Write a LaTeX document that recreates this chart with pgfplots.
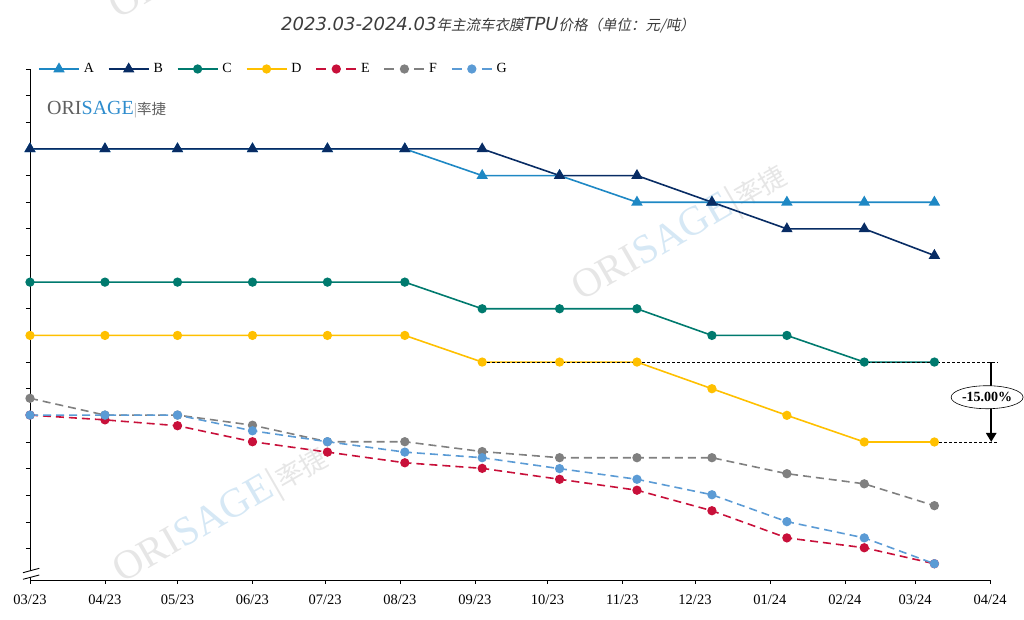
\documentclass[border=0pt]{standalone}
\usepackage{pgfplots}
\pgfplotsset{compat=1.18}
\usepackage{pgfplotstable}
\usepackage{fontspec}
\setmainfont{Liberation Serif}
\newfontfamily\cjk{Noto Sans CJK SC}
\newfontfamily\cjkslant{Noto Sans CJK SC}[FakeSlant=0.2]
\newfontfamily\titlefont{DejaVu Sans}
\usetikzlibrary{arrows.meta,shapes.geometric}

\definecolor{cA}{RGB}{30,136,196}
\definecolor{cB}{RGB}{8,44,100}
\definecolor{cC}{RGB}{0,122,110}
\definecolor{cD}{RGB}{255,192,0}
\definecolor{cE}{RGB}{200,16,58}
\definecolor{cF}{RGB}{128,128,128}
\definecolor{cG}{RGB}{91,155,213}
\definecolor{logoblue}{RGB}{46,140,205}
\definecolor{logogray}{RGB}{95,95,95}
\definecolor{wmgray}{RGB}{230,230,230}
\definecolor{wmblue}{RGB}{214,232,245}
\definecolor{titlegray}{RGB}{60,60,60}

\pgfplotstableread{
x A B C D E F G
0 16 16 11 9 6.01 6.64 6.01
31 16 16 11 9 5.83 6.01 6.01
61 16 16 11 9 5.61 6.01 6.01
92 16 16 11 9 5.01 5.63 5.42
123 16 16 11 9 4.62 5.01 5.01
155 16 16 11 9 4.22 5.01 4.62
187 15 16 10 8 4.01 4.64 4.41
219 15 15 10 8 3.60 4.41 4.00
251 14 15 10 8 3.19 4.41 3.60
282 14 14 9 7 2.42 4.41 3.02
313 14 13 9 6 1.40 3.81 2.01
345 14 13 8 5 1.03 3.43 1.40
374 14 12 8 5 0.43 2.61 0.43
}\datatable

\newcommand{\wm}[1]{\node[rotate=30, anchor=base west, inner sep=0pt, text=wmgray, font=\fontsize{41}{41}\selectfont] at (#1) {ORI\textcolor{wmblue}{SAGE}|{\cjk\fontsize{27}{27}\selectfont 率捷}};}

\begin{document}
\begin{tikzpicture}[x=1pt,y=1pt]
\useasboundingbox (0,0) rectangle (1024,620);
% watermarks
\wm{581,318}
\wm{122,36}
\wm{118,600}
% title
\node[anchor=base, inner sep=0pt, text=titlegray] at (488,589) {\titlefont\itshape\fontsize{18}{20}\selectfont 2023.03-2024.03{\cjkslant\fontsize{14.5}{16}\selectfont 年主流车衣膜}TPU{\cjkslant\fontsize{14.5}{16}\selectfont 价格（单位：元/吨）}};
% logo
\node[anchor=base west, inner sep=0pt, text=logogray, font=\fontsize{20}{20}\selectfont] at (47,505) {ORI\textcolor{logoblue}{SAGE}{\color{gray!60}\fontsize{16}{16}\selectfont|}{\cjk\fontsize{14.5}{16}\selectfont 率捷}};

\begin{axis}[
  at={(30pt,40pt)}, anchor=south west,
  scale only axis, width=960pt, height=511pt,
  xmin=0, xmax=397, ymin=-0.18, ymax=19,
  axis lines*=left,
  axis line style={black, line width=0.8pt},
  xtick={0,31,61,92,122,153,184,214,245,275,306,337,366,397},
  xticklabels={03/23,04/23,05/23,06/23,07/23,08/23,09/23,10/23,11/23,12/23,01/24,02/24,03/24,04/24},
  ytick={1,...,19}, yticklabels={},
  tick align=outside, major tick length=4pt,
  tick style={black, line width=0.8pt},
  ticklabel style={font=\fontsize{14.5}{16}\selectfont},
  xticklabel style={yshift=-7pt},
  clip=false,
  legend columns=-1,
  legend style={at={(0,1)}, anchor=west, xshift=8pt, draw=none, fill=none, inner sep=0pt,
    font=\fontsize{14}{16}\selectfont,
    /tikz/every odd column/.append style={column sep=2pt},
    /tikz/every even column/.append style={column sep=12pt}},
  legend image code/.code={\draw[mark repeat=2,mark phase=2,#1] plot coordinates {(0pt,0pt) (20pt,0pt) (40pt,0pt)};},
]
\addplot[cA, line width=1.6pt, mark=triangle*, mark size=5pt, mark options={solid}] table[x=x,y=A]{\datatable};
\addlegendentry{A}
\addplot[cB, line width=1.6pt, mark=triangle*, mark size=5pt, mark options={solid}] table[x=x,y=B]{\datatable};
\addlegendentry{B}
\addplot[cC, line width=1.6pt, mark=*, mark size=3.8pt, mark options={solid}] table[x=x,y=C]{\datatable};
\addlegendentry{C}
\addplot[cD, line width=1.6pt, mark=*, mark size=3.8pt, mark options={solid}] table[x=x,y=D]{\datatable};
\addlegendentry{D}
\addplot[cE, line width=1.6pt, dash pattern=on 8pt off 5pt, mark=*, mark size=3.8pt, mark options={solid}, legend image post style={dash pattern=on 10pt off 20pt}] table[x=x,y=E]{\datatable};
\addlegendentry{E}
\addplot[cF, line width=1.6pt, dash pattern=on 8pt off 5pt, mark=*, mark size=3.8pt, mark options={solid}, legend image post style={dash pattern=on 10pt off 20pt}] table[x=x,y=F]{\datatable};
\addlegendentry{F}
\addplot[cG, line width=1.6pt, dash pattern=on 8pt off 5pt, mark=*, mark size=3.8pt, mark options={solid}, legend image post style={dash pattern=on 10pt off 20pt}] table[x=x,y=G]{\datatable};
\addlegendentry{G}
% annotation
\draw[black, line width=0.8pt, dash pattern=on 3pt off 2pt] (axis cs:187,8) -- (axis cs:400,8);
\draw[black, line width=0.8pt, dash pattern=on 3pt off 2pt] (axis cs:374,5) -- (axis cs:400,5);
\draw[black, line width=2.5pt, -{Triangle[length=9pt,width=10pt]}] (axis cs:397.5,8) -- (axis cs:397.5,5);
\node[ellipse, draw=black, line width=0.6pt, fill=white, minimum width=72pt, minimum height=23pt, inner sep=0pt, font=\bfseries\fontsize{14}{16}\selectfont] at (axis cs:395.8,6.68) {-15.00\%};
\end{axis}
% axis break
\fill[white] (23,40.7) -- (39.3,45) -- (39.3,51.7) -- (23,47.3) -- cycle;
\draw[black, line width=0.9pt] (23,40.7) -- (39.3,45);
\draw[black, line width=0.9pt] (23,47.3) -- (39.3,51.7);
\end{tikzpicture}
\end{document}
